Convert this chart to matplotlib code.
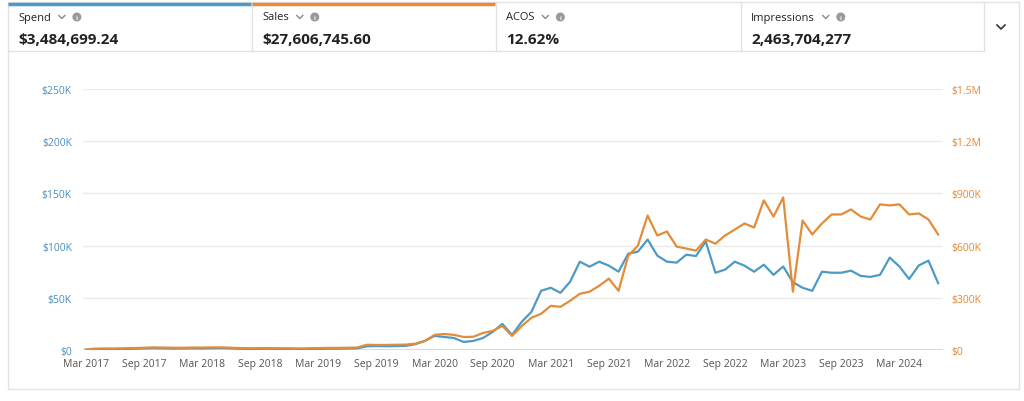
#Spend vs Sales dashboard chart (monthly, Mar 2017 - Jul 2024)
import numpy as np
import pandas as pd
import matplotlib
matplotlib.use("Agg")
import matplotlib.pyplot as plt
from matplotlib.patches import Rectangle, Circle
from matplotlib.ticker import FuncFormatter

plt.rcParams['font.family'] = ['Open Sans', 'DejaVu Sans']

#Header tabs
tab_names = ['Spend', 'Sales', 'ACOS', 'Impressions']
tab_values = ['$3,484,699.24', '$27,606,745.60', '12.62%', '2,463,704,277']

#Monthly values in thousands of dollars
spend_k = [0.3, 0.6, 0.8, 0.9, 1.0, 1.2, 1.5, 1.8, 1.6, 1.4, 1.5, 1.6, 1.5, 1.7, 1.8,
           1.5, 1.2, 1.0, 1.1, 1.2, 1.0, 1.0, 0.9, 1.0, 1.1, 1.2, 1.3, 1.4, 1.6, 3.5,
           3.8, 3.6, 3.7, 4.0, 5.5, 8.7, 13.5, 12.5, 11.5, 7.7, 8.7, 11.5, 17.3, 25,
           14.4, 27, 36.5, 56.7, 59.6, 54.8, 65.4, 84.6, 79.8, 84.6, 80.8, 75, 92.3,
           94.2, 105.8, 90.4, 84.6, 83.7, 91.3, 90, 104, 74, 77, 84.6, 80.8, 75, 81.7,
           72, 80, 65, 59.6, 56.7, 75, 74, 74, 76, 71, 70, 72, 88.5, 80, 68, 81, 85.6, 64]
sales_k = [3, 8, 9, 9, 10, 11, 13, 15, 14, 13, 13, 14, 14, 15, 15,
           13, 11, 10, 11, 11, 10, 10, 9, 10, 11, 12, 12, 13, 14, 30,
           29, 29, 30, 31, 36, 52, 87, 92, 87, 75, 76, 98, 110, 138,
           81, 138, 185, 208, 254, 248, 283, 323, 335, 369, 410, 340, 542,
           600, 773, 658, 681, 594, 583, 571, 635, 611, 658, 692, 727, 704, 860,
           767, 877, 335, 744, 664, 727, 779, 779, 808, 767, 750, 837, 831, 837, 779, 785, 750, 664]
months = pd.date_range('2017-03-01', periods=len(spend_k), freq='MS')

spend = np.array(spend_k) * 1000
sales = np.array(sales_k) * 1000
x = np.arange(len(months))

blue = '#4e9ac4'
orange = '#e38c3a'
border = '#e2e2e2'

W, H = 1024, 402
fig = plt.figure(figsize=(W/100, H/100), dpi=100)

#Background axes in pixel coordinates for the header and frame
bg = fig.add_axes([0, 0, 1, 1])
bg.set_xlim(0, W)
bg.set_ylim(H, 0)
bg.axis('off')
bg.add_patch(Rectangle((8, 3), 1011, 387, fill=False, edgecolor=border, lw=1))
bg.plot([8, 984], [52, 52], color=border, lw=1)
tab_x = [8, 252, 496, 741]
for xx in tab_x[1:] + [984]:
    bg.plot([xx, xx], [3, 52], color=border, lw=1)
bg.plot([8, 251], [4.5, 4.5], color=blue, lw=2.5, solid_capstyle='butt')
bg.plot([252, 495], [4.5, 4.5], color=orange, lw=2.5, solid_capstyle='butt')

labels = []
for tx, name, val in zip(tab_x, tab_names, tab_values):
    t = bg.text(tx + 10, 18, name, fontsize=8, color='#222222', va='center', ha='left')
    bg.text(tx + 10, 40, val, fontsize=11, fontweight='bold', color='#222222', va='center', ha='left')
    labels.append(t)

fig.canvas.draw()
r = fig.canvas.get_renderer()
for t in labels:
    x1 = t.get_window_extent(r).x1
    cx = x1 + 11
    bg.plot([cx - 3, cx, cx + 3], [16.5, 19.5, 16.5], color='#8a8a8a', lw=1)
    ix = cx + 15
    bg.add_patch(Circle((ix, 18), 3.8, color='#9a9a9a'))
    bg.text(ix, 18.3, 'i', fontsize=4.5, color='white', fontweight='bold', ha='center', va='center')
#dropdown chevron
bg.plot([997, 1001, 1005], [26, 30, 26], color='#333333', lw=1.2)

#Main chart
ax = fig.add_axes([83/W, (H-351)/H, 860/W, 261/H])
ax.set_facecolor('none')
ax2 = ax.twinx()
ax.plot(x, spend, color=blue, lw=1.6)
ax2.plot(x, sales, color=orange, lw=1.6)

ax.set_xlim(-0.3, 88.5)
ax.set_ylim(0, 250000)
ax2.set_ylim(0, 1500000)
ax.set_yticks(np.arange(0, 250001, 50000))
ax2.set_yticks(np.arange(0, 1500001, 300000))

def left_fmt(v, pos):
    return '$0' if v == 0 else '${:d}K'.format(int(v/1000))

def right_fmt(v, pos):
    if v == 0:
        return '$0'
    if v >= 1e6:
        return '${:.1f}M'.format(v/1e6)
    return '${:d}K'.format(int(v/1000))

ax.yaxis.set_major_formatter(FuncFormatter(left_fmt))
ax2.yaxis.set_major_formatter(FuncFormatter(right_fmt))
tick_idx = x[::6]
ax.set_xticks(tick_idx)
ax.set_xticklabels([months[i].strftime('%b %Y') for i in tick_idx])

ax.grid(axis='y', color='#ebebeb', lw=1)
ax.set_axisbelow(True)
for a in (ax, ax2):
    for s in a.spines.values():
        s.set_visible(False)
ax.axhline(0, color='#cfcfcf', lw=1.2, zorder=0.5)
ax.tick_params(axis='y', length=0, pad=8, labelsize=7.5, labelcolor='#4a90bd')
ax2.tick_params(axis='y', length=0, pad=6, labelsize=7.5, labelcolor='#e0893a')
ax.tick_params(axis='x', length=0, pad=6, labelsize=7.5, labelcolor='#555555')

fig.savefig('out.png', dpi=100)
